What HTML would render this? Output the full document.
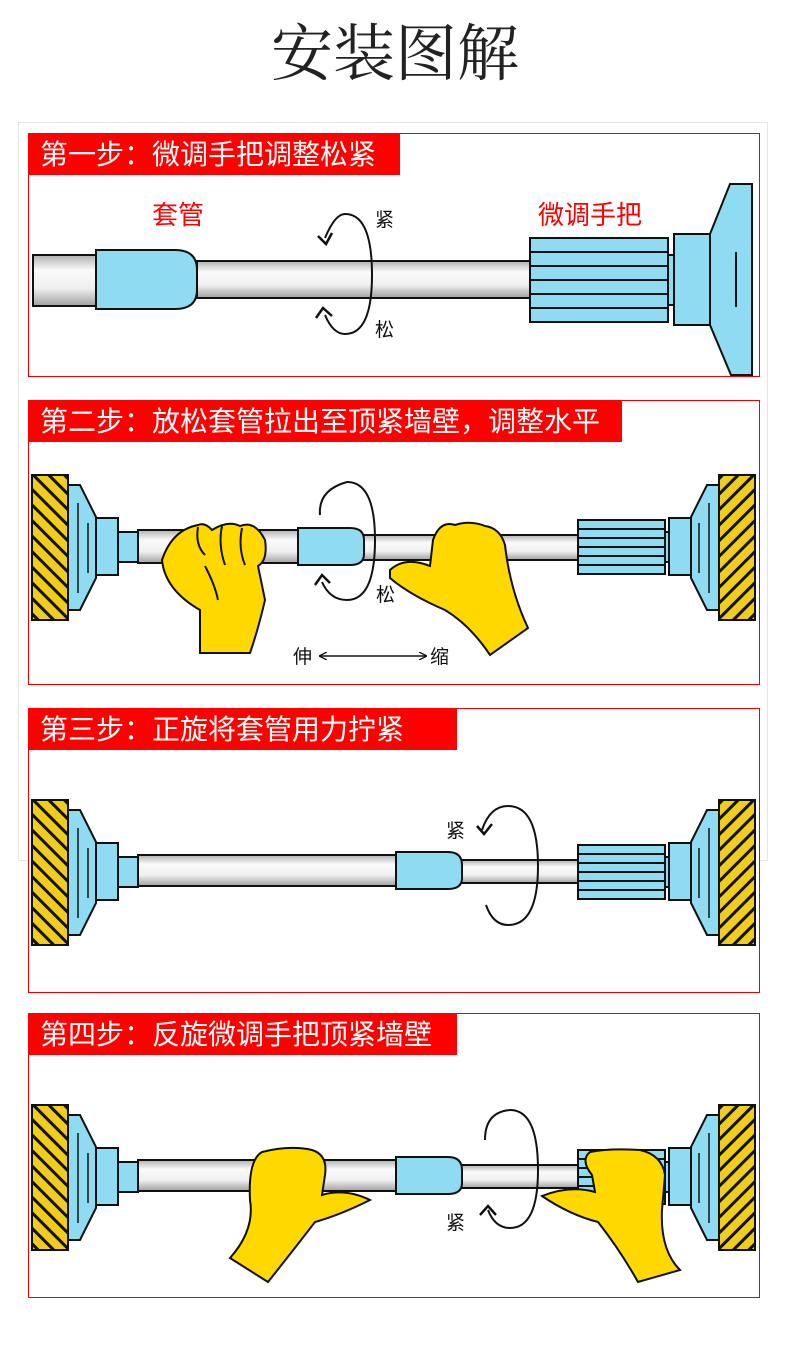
<!DOCTYPE html>
<html><head><meta charset="utf-8"><style>
body{margin:0;background:#fff;width:790px;height:1349px;overflow:hidden}
svg{display:block}
.h{font-family:"Liberation Sans","Noto Sans CJK SC",sans-serif;fill:#fff;font-size:28px;font-weight:normal}
.t{font-family:"Liberation Sans","Noto Sans CJK SC",sans-serif;font-size:19px;fill:#111}
.r{font-family:"Liberation Sans","Noto Sans CJK SC",sans-serif;font-size:26px;fill:#f00}
</style></head><body>
<svg width="790" height="1349" viewBox="0 0 790 1349" xmlns="http://www.w3.org/2000/svg">
<defs>
<pattern id="hatch" width="11" height="11" patternUnits="userSpaceOnUse" patternTransform="rotate(-45)">
<rect width="11" height="11" fill="#f0cc1c"/><rect width="3" height="11" fill="#111"/></pattern>
<linearGradient id="rod" x1="0" y1="0" x2="0" y2="1">
<stop offset="0" stop-color="#b0b0b0"/><stop offset="0.3" stop-color="#fafafa"/><stop offset="0.65" stop-color="#f0f0f0"/><stop offset="1" stop-color="#a0a0a0"/></linearGradient>
<g id="wall" stroke="#111" stroke-width="2">
<rect x="32" y="0" width="36" height="145" fill="url(#hatch)"/>
<polygon points="68,10 80,10 96,42 96,103 80,135 68,135" fill="#8fdcf2"/>
<line x1="78" y1="28" x2="78" y2="118" stroke-width="1.5"/>
<line x1="88" y1="48" x2="88" y2="98" stroke-width="1.5"/>
<rect x="96" y="43" width="22" height="57" fill="#8fdcf2"/>
<rect x="118" y="57" width="20" height="30" fill="#8fdcf2"/>
</g>
<g id="ribs" stroke="#111" stroke-width="2" fill="#8fdcf2">
<rect x="578" y="45" width="87" height="54"/>
<line x1="578" y1="54" x2="665" y2="54"/><line x1="578" y1="63" x2="665" y2="63"/>
<line x1="578" y1="72" x2="665" y2="72"/><line x1="578" y1="81" x2="665" y2="81"/><line x1="578" y1="90" x2="665" y2="90"/>
</g>
<marker id="ah" markerWidth="8" markerHeight="8" refX="7" refY="4" orient="auto-start-reverse" markerUnits="userSpaceOnUse"><path d="M0,0 L8,4 L0,8" fill="none" stroke="#111" stroke-width="1.3"/></marker>
</defs>
<text x="395" y="75" text-anchor="middle" font-family="'Liberation Serif','Noto Serif CJK SC',serif" font-size="62" fill="#222">安装图解</text>
<rect x="18.5" y="122.5" width="749" height="738" fill="none" stroke="#e6e6e6"/>

<!-- Panel 1 -->
<rect x="28.5" y="133.5" width="731" height="243" fill="#fff" stroke="#e00"/>
<rect x="28" y="133" width="372" height="42" fill="#f00"/>
<text class="h" x="40" y="164">第一步：微调手把调整松紧</text>
<text class="r" x="152" y="224">套管</text>
<text class="r" x="538" y="224">微调手把</text>
<rect x="33" y="255" width="65" height="51" fill="url(#rod)" stroke="#111" stroke-width="2"/>
<rect x="197" y="261" width="335" height="37" fill="url(#rod)" stroke="#111" stroke-width="2"/>
<path d="M96,250 H175 Q197,250 197,270 V290 Q197,309 175,309 H96 Z" fill="#8fdcf2" stroke="#111" stroke-width="2"/>
<g stroke="#111" stroke-width="2" fill="#8fdcf2">
<rect x="530" y="238" width="138" height="84"/>
<line x1="530" y1="252" x2="668" y2="252"/><line x1="530" y1="266" x2="668" y2="266"/><line x1="530" y1="280" x2="668" y2="280"/><line x1="530" y1="294" x2="668" y2="294"/><line x1="530" y1="308" x2="668" y2="308"/>
<rect x="668" y="255" width="6" height="50"/>
<rect x="674" y="234" width="36" height="91"/>
<polygon points="710,234 730,184 752,184 752,375 731,375 710,325"/>
<line x1="736" y1="252" x2="736" y2="307"/>
</g>
<path d="M325,238 Q335,214 345,214 Q372,214 372,275 Q372,334 345,334 Q333,334 325,315" fill="none" stroke="#111" stroke-width="2"/>
<path d="M318,236 L326,244 L332,233" fill="none" stroke="#111" stroke-width="2.5"/>
<path d="M316,318 L323,308 L332,316" fill="none" stroke="#111" stroke-width="2.5"/>
<text class="t" x="375" y="226">紧</text>
<text class="t" x="375" y="336">松</text>

<!-- Panel 2 -->
<rect x="28.5" y="400.5" width="731" height="284" fill="#fff" stroke="#e00"/>
<rect x="28" y="400" width="594" height="42" fill="#f00"/>
<text class="h" x="40" y="431">第二步：放松套管拉出至顶紧墙壁，调整水平</text>
<g transform="translate(0,475)">
<rect x="138" y="55" width="162" height="33" fill="url(#rod)" stroke="#111" stroke-width="2"/>
<rect x="362" y="60" width="218" height="25" fill="url(#rod)" stroke="#111" stroke-width="2"/>
<path d="M298,53 H350 Q364,53 364,65 V79 Q364,90 350,90 H298 Z" fill="#8fdcf2" stroke="#111" stroke-width="2"/>
<use href="#wall"/><use href="#wall" transform="translate(787,0) scale(-1,1)"/><use href="#ribs"/>
</g>
<path d="M200,653 L200,610 Q165,590 162,560 Q172,530 198,525 Q205,522 212,530 Q228,520 240,526 Q255,520 265,540 Q268,560 258,566 L265,600 Q258,630 250,653 Z" fill="#ffd800" stroke="#111" stroke-width="2"/>
<path d="M198,527 Q195,545 205,555 M222,526 Q218,545 225,565 M242,528 Q238,548 245,565 M205,566 Q215,585 218,600" fill="none" stroke="#111" stroke-width="2"/>
<path d="M390,570 Q405,556 430,566 L433,540 Q440,520 455,525 Q470,520 485,526 Q500,528 505,545 Q510,590 528,628 L490,655 Q470,625 445,610 Q410,595 390,578 Z" fill="#ffd800" stroke="#111" stroke-width="2"/>
<path d="M347,482 Q375,482 375,540 Q375,600 347,600 Q330,600 322,582" fill="none" stroke="#111" stroke-width="2"/>
<path d="M320,515 Q318,490 347,482" fill="none" stroke="#111" stroke-width="2"/>
<path d="M315,585 L322,575 L330,583" fill="none" stroke="#111" stroke-width="2.5"/>
<text class="t" x="376" y="601">松</text>
<text class="t" x="293" y="663">伸</text>
<text class="t" x="430" y="663">缩</text>
<line x1="320" y1="656" x2="426" y2="656" stroke="#111" stroke-width="1.5" marker-start="url(#ah)" marker-end="url(#ah)"/>

<!-- Panel 3 -->
<rect x="28.5" y="708.5" width="731" height="284" fill="#fff" stroke="#e00"/>
<rect x="28" y="708" width="429" height="42" fill="#f00"/>
<text class="h" x="40" y="739">第三步：正旋将套管用力拧紧</text>
<g transform="translate(0,800)">
<rect x="138" y="55" width="260" height="31" fill="url(#rod)" stroke="#111" stroke-width="2"/>
<rect x="460" y="60" width="120" height="23" fill="url(#rod)" stroke="#111" stroke-width="2"/>
<path d="M396,52 H448 Q462,52 462,65 V78 Q462,89 448,89 H396 Z" fill="#8fdcf2" stroke="#111" stroke-width="2"/>
<use href="#wall"/><use href="#wall" transform="translate(787,0) scale(-1,1)"/><use href="#ribs"/>
</g>
<path d="M482,830 Q490,806 508,806 Q538,806 538,866 Q538,925 508,925 Q493,925 486,905" fill="none" stroke="#111" stroke-width="2"/>
<path d="M477,826 L484,834 L492,824" fill="none" stroke="#111" stroke-width="2.5"/>
<text class="t" x="446" y="837">紧</text>

<!-- Panel 4 -->
<rect x="28.5" y="1013.5" width="731" height="284" fill="#fff" stroke="#e00"/>
<rect x="28" y="1013" width="429" height="42" fill="#f00"/>
<text class="h" x="40" y="1044">第四步：反旋微调手把顶紧墙壁</text>
<g transform="translate(0,1105)">
<rect x="138" y="55" width="260" height="31" fill="url(#rod)" stroke="#111" stroke-width="2"/>
<rect x="460" y="60" width="120" height="23" fill="url(#rod)" stroke="#111" stroke-width="2"/>
<path d="M396,52 H448 Q462,52 462,65 V78 Q462,89 448,89 H396 Z" fill="#8fdcf2" stroke="#111" stroke-width="2"/>
<use href="#wall"/><use href="#wall" transform="translate(787,0) scale(-1,1)"/><use href="#ribs"/>
</g>
<path d="M510,1110 Q538,1110 538,1170 Q538,1228 510,1228 Q495,1228 488,1210" fill="none" stroke="#111" stroke-width="2"/>
<path d="M485,1140 Q485,1112 510,1110" fill="none" stroke="#111" stroke-width="2"/>
<path d="M480,1215 L488,1206 L496,1215" fill="none" stroke="#111" stroke-width="2.5"/>
<text class="t" x="446" y="1229">紧</text>
<path d="M230,1258 Q255,1230 250,1200 Q248,1160 262,1152 Q290,1145 312,1150 Q328,1155 325,1175 L322,1195 Q345,1188 370,1200 Q340,1215 315,1222 Q295,1248 268,1282 Z" fill="#ffd800" stroke="#111" stroke-width="2"/>
<path d="M680,1270 Q660,1250 662,1210 L665,1175 Q662,1155 640,1150 Q610,1148 590,1152 Q580,1160 592,1175 L595,1192 Q570,1185 542,1196 Q570,1215 598,1222 Q620,1250 638,1282 Z" fill="#ffd800" stroke="#111" stroke-width="2"/>
</svg>
</body></html>
